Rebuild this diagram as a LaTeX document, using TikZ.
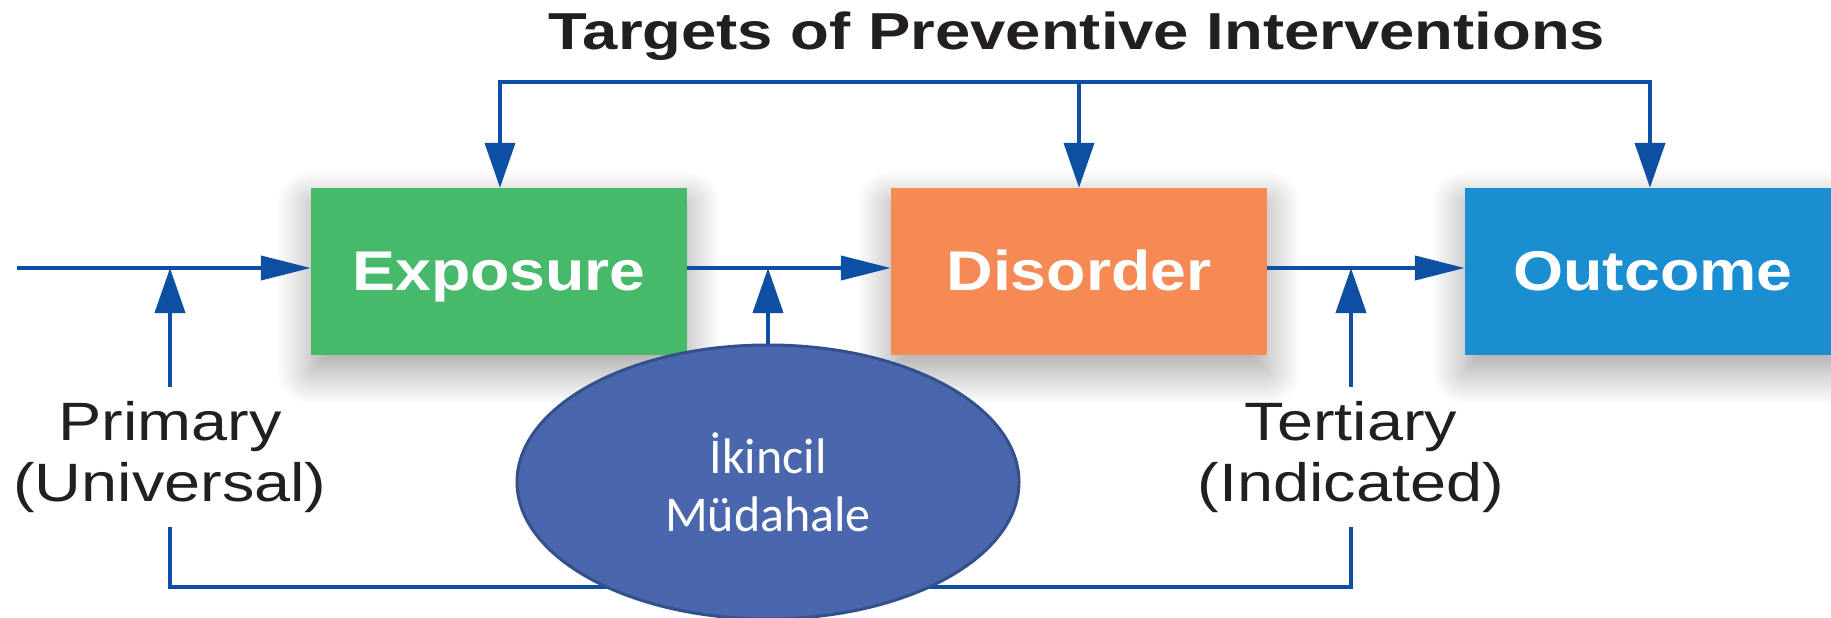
\documentclass[tikz,border=0pt]{standalone}
\usepackage{fontspec}
\usepackage{xcolor}
\usepackage{tikz}
\usetikzlibrary{arrows.meta,positioning,shapes.geometric,shadows.blur}
\setmainfont{Liberation Sans}
\newfontfamily\ptTitleFont[FakeStretch=1.22]{Liberation Sans}
\newfontfamily\ptStageFont[FakeStretch=1.15]{Liberation Sans}
\newfontfamily\ptLevelFont[FakeStretch=1.2]{Liberation Sans}
\newfontfamily\ptOvalFont{Carlito}
\definecolor{Ink}{HTML}{231F20}
\definecolor{FlowBlue}{HTML}{0D4FA3}
\definecolor{ExposureGreen}{HTML}{47B96B}
\definecolor{DisorderOrange}{HTML}{F68A55}
\definecolor{OutcomeBlue}{HTML}{1A8ED0}
\definecolor{OvalBlue}{HTML}{4A66AC}
\definecolor{OvalEdge}{HTML}{34508C}

\begin{document}
\begin{tikzpicture}[x=1pt,y=-1pt]
  \path[use as bounding box] (0,0) rectangle (1831,618);
  \clip (0,0) rectangle (1831,618);
  \tikzset{
    ptStage/.style={
      rectangle, minimum width=376pt, minimum height=167pt, inner sep=0pt,
      text height=40pt, text depth=3pt,
      text=white, font=\ptStageFont\bfseries\fontsize{56}{64}\selectfont,
      blur shadow={shadow xshift=0pt, shadow yshift=-16pt,
        shadow blur radius=34pt, shadow blur steps=24, shadow opacity=38}
    },
    ptLevel/.style={
      align=center, inner sep=14pt, text=Ink,
      font=\ptLevelFont\fontsize{54}{61}\selectfont
    },
    ptOval/.style={
      ellipse, minimum width=502pt, minimum height=274pt, inner sep=0pt,
      fill=OvalBlue, draw=OvalEdge, line width=3pt, align=center,
      text=white, font=\ptOvalFont\fontsize{50}{58}\selectfont
    },
    ptLine/.style={draw=FlowBlue, line width=4pt},
    ptFlowH/.style={ptLine, -{Triangle[length=50pt,width=24pt]}},
    ptFlowV/.style={ptLine, -{Triangle[length=45pt,width=30pt]}}
  }

  \node[font=\ptTitleFont\bfseries\fontsize{52}{60}\selectfont,text=Ink,anchor=base]
    (title) at (1077,49) {Targets of Preventive Interventions};

  \node[ptStage,fill=ExposureGreen] (exposure) at (499,271.5) {Exposure};
  \node[ptStage,fill=DisorderOrange] (disorder) at (1079,271.5) {Disorder};
  \node[ptStage,fill=OutcomeBlue] (outcome) at (1653,271.5) {Outcome};

  \node[ptLevel] (primary) at (170,457) {Primary\\(Universal)};
  \node[ptLevel] (tertiary) at (1351,457) {Tertiary\\(Indicated)};

  \coordinate (entry) at (17,268);
  \coordinate (topLeft) at (500,82);
  \coordinate (topRight) at (1650,82);
  \coordinate (bottomLeft) at (170,587);
  \coordinate (bottomRight) at (1351,587);

  % main chain
  \draw[ptFlowH] (entry) -- (entry -| exposure.west);
  \draw[ptFlowH] (exposure.east |- entry) -- (disorder.west |- entry);
  \draw[ptFlowH] (disorder.east |- entry) -- (outcome.west |- entry);

  % targets from above
  \draw[ptLine,line cap=rect] (topLeft) -- (topRight);
  \draw[ptFlowV] (topLeft) -- (topLeft |- exposure.north);
  \draw[ptFlowV] (topLeft -| disorder) -- (disorder.north);
  \draw[ptFlowV] (topRight) -- (topRight |- outcome.north);

  % levels from below
  \draw[ptFlowV] (primary.north) -- (primary.north |- entry);
  \draw[ptFlowV] (tertiary.north) -- (tertiary.north |- entry);
  \draw[ptLine] (primary.south) -- (bottomLeft) -- (bottomRight) -- (tertiary.south);

  \node[ptOval] (secondary) at (768,482) {İkincil\\Müdahale};
  \draw[ptFlowV] (secondary.north) -- (secondary.north |- entry);
\end{tikzpicture}
\end{document}
